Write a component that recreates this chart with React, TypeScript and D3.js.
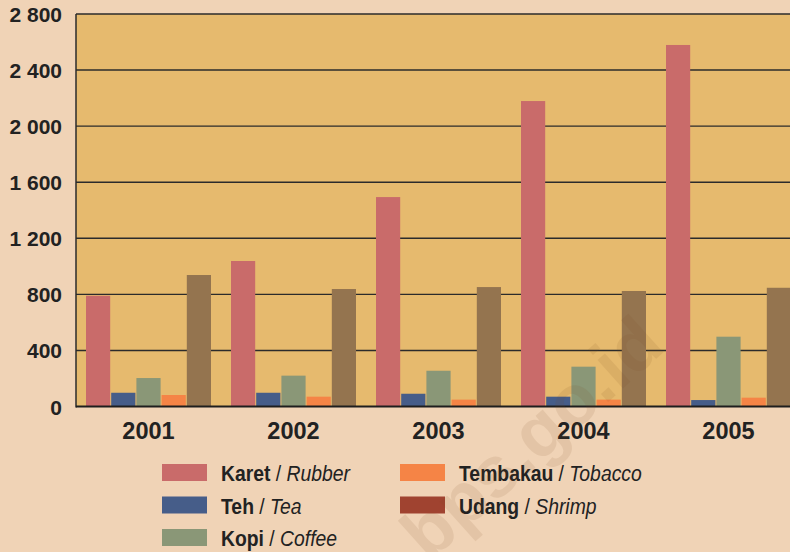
import React from "react";
import * as d3 from "d3";

const years = ["2001", "2002", "2003", "2004", "2005"];
const seriesKeys = ["Karet", "Teh", "Kopi", "Tembakau", "Udang"];
const seriesEn = ["Rubber", "Tea", "Coffee", "Tobacco", "Shrimp"];
const karet = [790, 1038, 1494, 2179, 2579];
const teh = [98, 98, 91, 70, 46];
const kopi = [203, 220, 255, 284, 498];
const tembakau = [82, 70, 49, 49, 63];
const udang = [938, 838, 852, 824, 847];
const yTicks = [0, 400, 800, 1200, 1600, 2000, 2400, 2800];

const barColors = ["#c96b6a", "#465d89", "#8a9777", "#f58446", "#94744f"];
const legendColors = ["#c96b6a", "#465d89", "#8a9777", "#f58446", "#a04330"];

export default function App() {
  const W = 790, H = 552;
  const left = 76, top = 14, bottom = 406.5;
  const values = [karet, teh, kopi, tembakau, udang];
  const x0 = d3.scaleBand().domain(years).range([left, left + 725]).paddingInner(0).paddingOuter(0);
  const inner = d3.scaleBand().domain(seriesKeys).range([10, 135]).paddingInner(0.04);
  const y = d3.scaleLinear().domain([0, 2800]).range([bottom, top]);
  const fmt = (v: number) => d3.format(",")(v).replace(",", " ");
  const font = "Arial, 'Liberation Sans', Helvetica, sans-serif";
  const legendPos = [
    [162, 464], [162, 496.5], [162, 529], [400, 464], [400, 496.5],
  ];
  return (
    <svg width={W} height={H} style={{ position: "absolute", left: 0, top: 0, display: "block", fontFamily: font }}>
      <rect x={0} y={0} width={W} height={H} fill="#f0d3b6" />
      <rect x={left} y={top} width={W - left} height={bottom - top} fill="#e6ba6e" />
      {yTicks.slice(1).map((t) => (
        <line key={t} x1={left} x2={W} y1={y(t)} y2={y(t)} stroke="#2b2b2b" strokeWidth={1.4} />
      ))}
      {years.map((yr, i) =>
        values.map((arr, s) => (
          <rect key={yr + s} x={x0(yr)! + inner(seriesKeys[s])!} y={y(arr[i])} width={inner.bandwidth()} height={bottom - y(arr[i])} fill={barColors[s]} />
        ))
      )}
      <line x1={left} x2={left} y1={top} y2={bottom + 1} stroke="#2b2b2b" strokeWidth={1.5} />
      <line x1={left} x2={W} y1={bottom} y2={bottom} stroke="#1e1e1e" strokeWidth={1.8} />
      {yTicks.map((t) => (
        <text key={t} x={62} y={y(t) + 8} textAnchor="end" fontSize={21} fontWeight="bold" fill="#222" fontFamily={font}>{fmt(t)}</text>
      ))}
      {years.map((yr) => (
        <text key={yr} x={x0(yr)! + x0.bandwidth() / 2} y={438.5} textAnchor="middle" fontSize={23.5} fontWeight="bold" fill="#222" fontFamily={font}>{yr}</text>
      ))}
      {seriesKeys.map((k, i) => (
        <g key={k}>
          <rect x={legendPos[i][0]} y={legendPos[i][1]} width={45} height={17} fill={legendColors[i]} />
          <text transform={`translate(${legendPos[i][0] + 59},${legendPos[i][1] + 17}) scale(0.9,1)`} fontSize={21.5} fill="#222" fontFamily={font}>
            <tspan fontWeight="bold">{k}</tspan>
            <tspan> / </tspan>
            <tspan fontStyle="italic">{seriesEn[i]}</tspan>
          </text>
        </g>
      ))}
      <text x={548} y={456} transform="rotate(-42 548 456)" textAnchor="middle" fontSize={72} fontWeight="bold" fill="#7a4a20" opacity={0.1} fontFamily={font}>bps.go.id</text>
    </svg>
  );
}
